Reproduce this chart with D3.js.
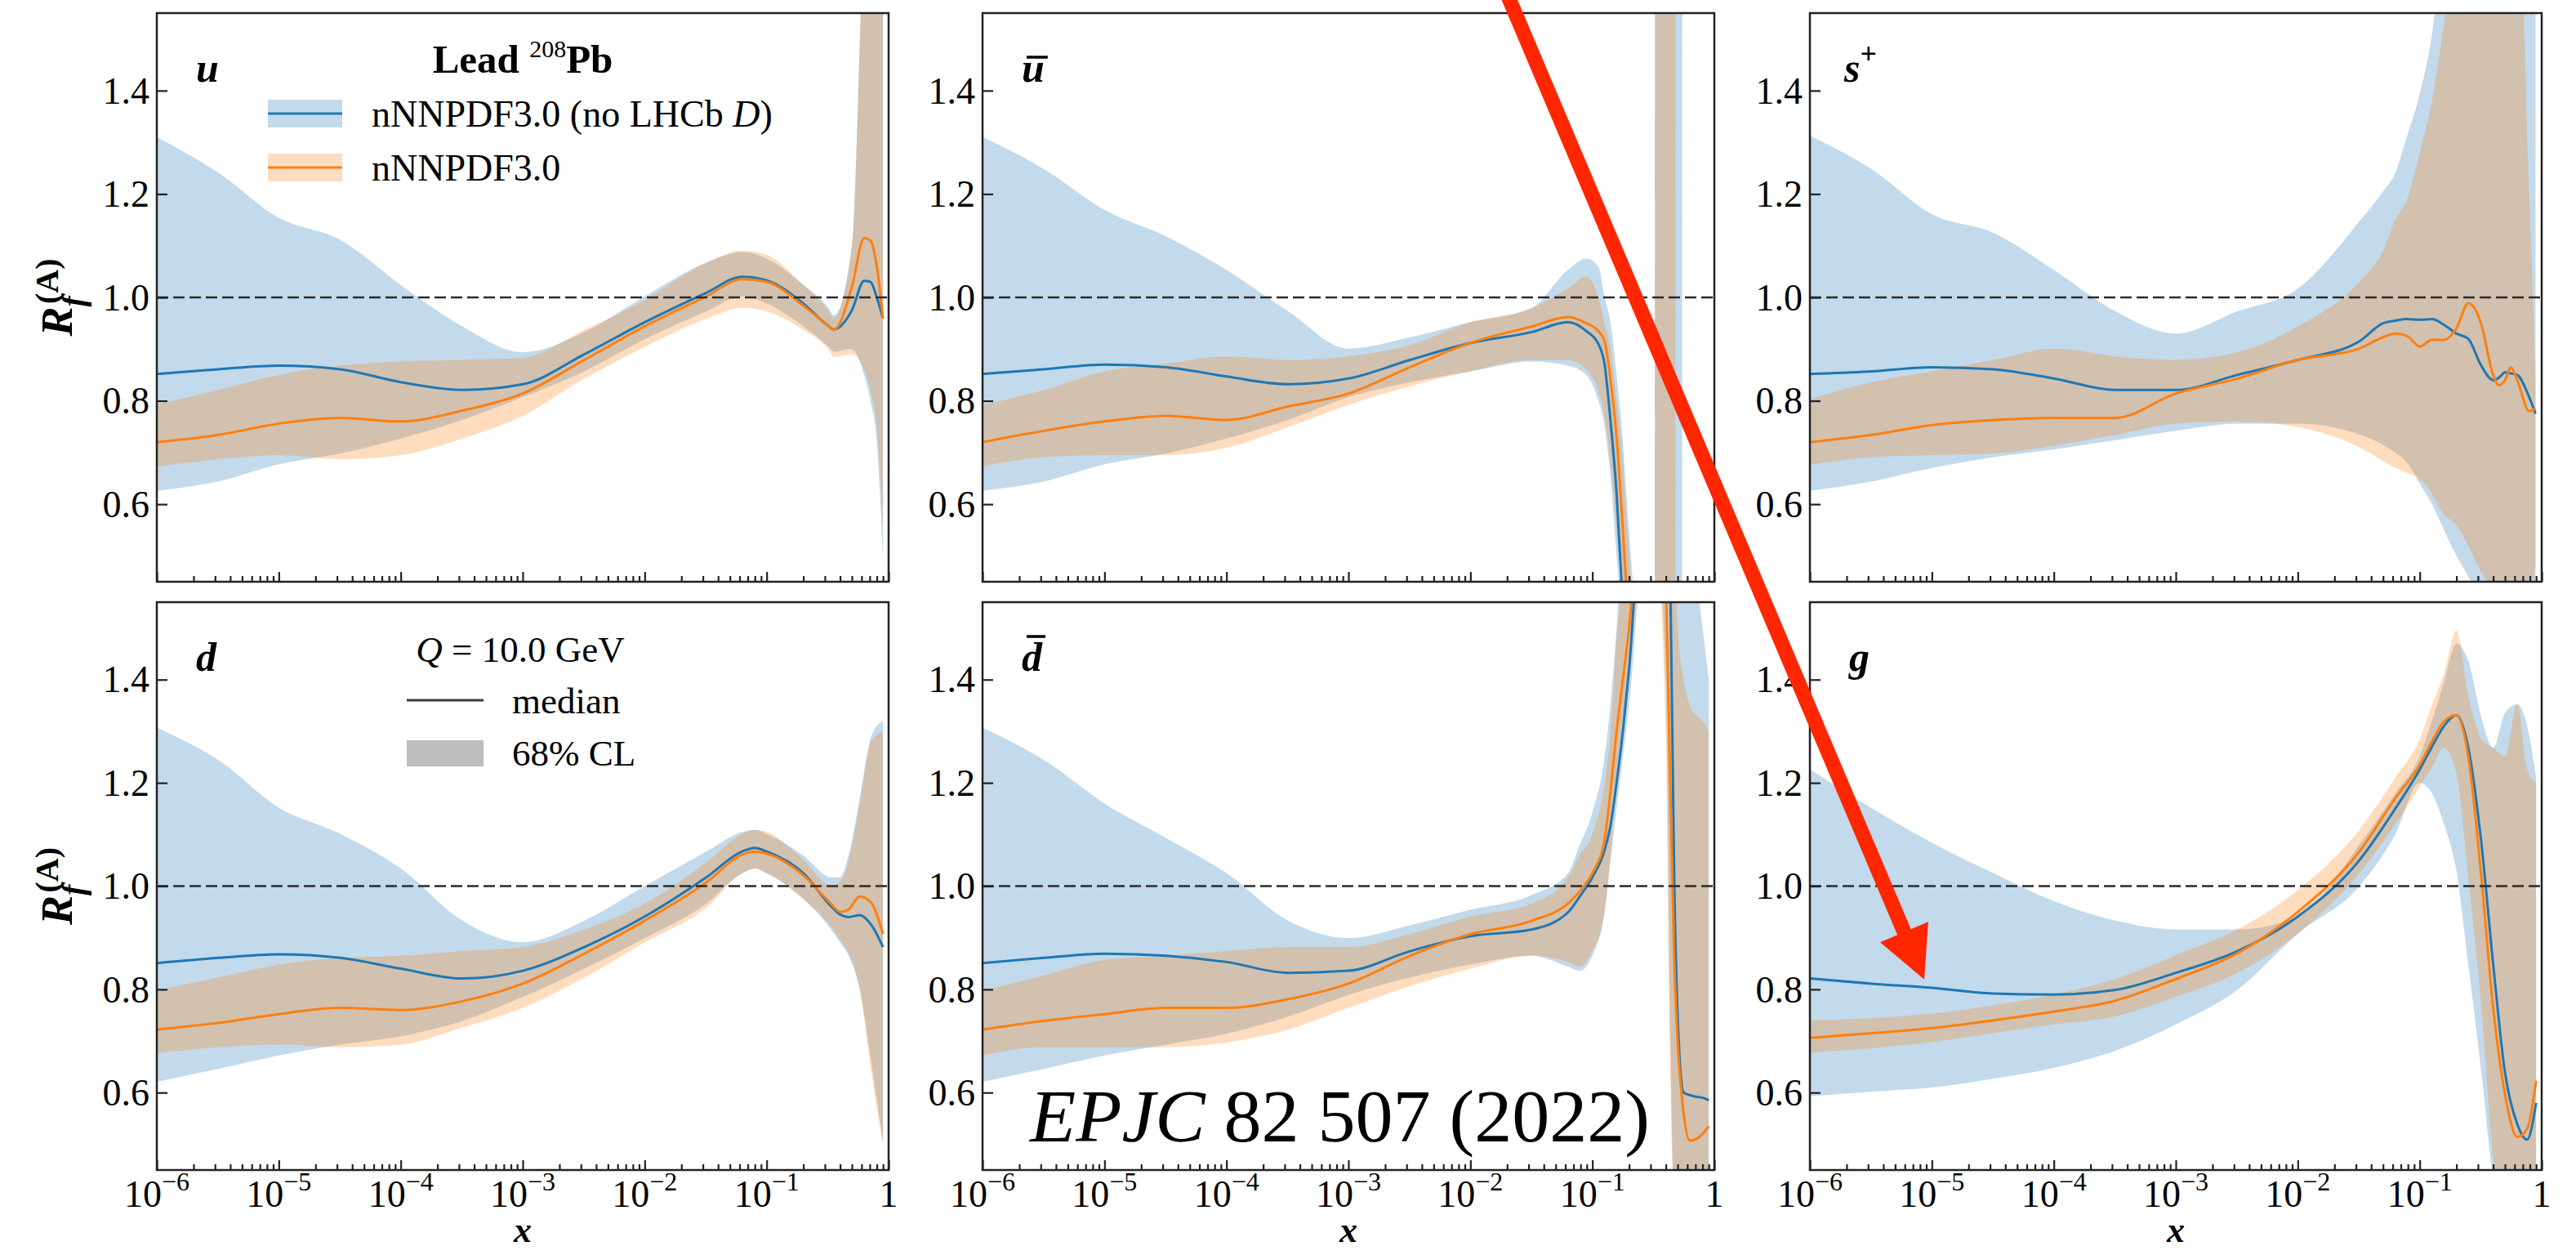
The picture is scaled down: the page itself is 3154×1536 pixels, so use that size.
<!DOCTYPE html>
<html>
<head>
<meta charset="utf-8">
<script src="https://cdn.jsdelivr.net/npm/d3@7/dist/d3.min.js"></script>
<style>
html,body{margin:0;padding:0;background:#fff;}
svg{display:block;}
text{font-family:"Liberation Serif","Times New Roman",serif;fill:#000;}
</style>
</head>
<body>
<svg id="chart" width="3154" height="1536"></svg>
<script>
// ---------------- DATA ----------------
// u
const xU = [1e-6,3.2e-6,1e-5,3.2e-5,1e-4,3.2e-4,1e-3,3.2e-3,0.01,0.032,0.063,0.1,0.2,0.32,0.355,0.5,0.63,0.71,0.8,0.9];
const uBmed = [0.852,0.861,0.868,0.861,0.836,0.821,0.832,0.89,0.952,1.009,1.04,1.033,0.988,0.945,0.938,0.975,1.032,1.03,1.0,0.959];
const uBlo  = [0.626,0.644,0.677,0.698,0.727,0.763,0.807,0.857,0.919,0.973,1.002,0.988,0.944,0.905,0.895,0.9,0.85,0.8,0.72,0.496];
const uBhi  = [1.31,1.241,1.154,1.111,1.024,0.944,0.894,0.933,1.002,1.067,1.088,1.075,1.024,0.98,0.965,1.1,1.7,1.8,1.8,1.8];
const uOmed = [0.72,0.734,0.756,0.767,0.76,0.781,0.814,0.879,0.944,1.002,1.035,1.03,0.984,0.945,0.937,1.02,1.115,1.11,1.06,0.959];
const uOlo  = [0.673,0.687,0.695,0.687,0.695,0.727,0.771,0.843,0.904,0.959,0.98,0.973,0.937,0.9,0.885,0.89,0.86,0.82,0.75,0.56];
const uOhi  = [0.792,0.821,0.85,0.868,0.876,0.879,0.883,0.937,0.995,1.067,1.09,1.082,1.024,0.975,0.96,1.1,1.7,1.8,1.8,1.8];
// u-bar
const xUb = [1e-6,3.2e-6,1e-5,3.2e-5,1e-4,3.2e-4,1e-3,3.2e-3,0.01,0.032,0.063,0.089,0.112,0.126,0.141,0.158,0.178,0.19,0.3,0.325,0.328,0.477,0.48,0.543,0.546,0.9];
const ubBmed = [0.852,0.861,0.87,0.865,0.847,0.832,0.843,0.879,0.912,0.933,0.952,0.935,0.91,0.87,0.76,0.62,0.4,0.3,null,null,null,null,null,null,null,null];
const ubBlo  = [0.626,0.644,0.677,0.698,0.727,0.763,0.807,0.836,0.857,0.876,0.868,0.85,0.8,0.75,0.65,0.5,0.35,0.3,-1,-1,-9,-9,-9,-9,2,2];
const ubBhi  = [1.31,1.248,1.169,1.118,1.053,0.973,0.901,0.923,0.952,0.98,1.053,1.075,1.06,1.0,0.95,0.85,0.72,0.62,0.2,0.2,9,9,9,9,9,9];
const ubOmed = [0.72,0.742,0.76,0.771,0.763,0.789,0.814,0.865,0.912,0.944,0.962,0.95,0.935,0.915,0.84,0.73,0.55,0.44,null,null,null,null,null,null,null,null];
const ubOlo  = [0.673,0.691,0.695,0.695,0.709,0.749,0.792,0.828,0.857,0.879,0.879,0.86,0.82,0.77,0.68,0.55,0.42,0.35,-1,-1,-9,-9,2,2,2,2];
const ubOhi  = [0.792,0.821,0.857,0.872,0.886,0.879,0.886,0.908,0.952,0.98,1.017,1.04,1.0,0.95,0.9,0.8,0.68,0.58,0.1,0.1,9,9,9,9,9,9];
// s+
const xS = [1e-6,3.2e-6,1e-5,3.2e-5,1e-4,3.2e-4,1e-3,3.2e-3,0.01,0.032,0.05,0.063,0.079,0.1,0.126,0.158,0.2,0.25,0.316,0.4,0.447,0.5,0.56,0.63,0.79,0.89];
const sBmed = [0.852,0.857,0.865,0.861,0.843,0.821,0.821,0.85,0.879,0.915,0.95,0.955,0.958,0.957,0.958,0.947,0.93,0.92,0.87,0.84,0.845,0.855,0.853,0.85,0.807,0.775];
const sBlo  = [0.626,0.644,0.67,0.691,0.706,0.724,0.742,0.756,0.756,0.735,0.715,0.7,0.68,0.64,0.6,0.55,0.5,0.46,0.4,0.3,0.25,0.2,0.2,0.2,0.2,0.2];
const sBhi  = [1.313,1.248,1.161,1.125,1.053,0.973,0.93,0.973,1.017,1.147,1.205,1.241,1.313,1.393,1.509,1.7,1.8,1.8,1.8,1.8,1.8,1.8,1.8,1.8,1.8,1.8];
const sOmed = [0.72,0.734,0.753,0.763,0.767,0.767,0.814,0.843,0.879,0.901,0.923,0.93,0.925,0.905,0.918,0.918,0.94,0.989,0.952,0.85,0.83,0.84,0.865,0.84,0.78,0.785];
const sOlo  = [0.676,0.691,0.695,0.698,0.713,0.734,0.756,0.76,0.749,0.71,0.684,0.67,0.66,0.65,0.62,0.58,0.56,0.52,0.47,0.43,0.4,0.38,0.36,0.35,0.4,0.48];
const sOhi  = [0.803,0.836,0.857,0.879,0.901,0.886,0.879,0.894,0.944,1.03,1.09,1.15,1.19,1.28,1.38,1.53,1.7,1.8,1.8,1.8,1.8,1.8,1.8,1.8,1.2,0.85];
// d
const xD = [1e-6,3.2e-6,1e-5,3.2e-5,1e-4,3.2e-4,1e-3,3.2e-3,0.01,0.032,0.063,0.08,0.1,0.2,0.34,0.4,0.47,0.58,0.72,0.9];
const dBmed = [0.851,0.861,0.868,0.861,0.84,0.821,0.836,0.882,0.941,1.017,1.067,1.074,1.067,1.025,0.96,0.945,0.94,0.944,0.925,0.882];
const dBlo  = [0.621,0.646,0.672,0.693,0.709,0.739,0.785,0.84,0.899,0.966,1.025,1.034,1.025,0.975,0.915,0.891,0.865,0.8,0.66,0.503];
const dBhi  = [1.307,1.244,1.152,1.101,1.034,0.933,0.891,0.933,1.0,1.067,1.105,1.109,1.101,1.059,1.017,1.017,1.06,1.17,1.29,1.32];
const dOmed = [0.722,0.735,0.752,0.764,0.76,0.777,0.811,0.869,0.933,1.007,1.061,1.067,1.063,1.021,0.965,0.95,0.955,0.98,0.968,0.907];
const dOlo  = [0.676,0.688,0.693,0.688,0.693,0.726,0.764,0.823,0.891,0.958,1.025,1.034,1.025,0.975,0.92,0.895,0.87,0.8,0.64,0.5];
const dOhi  = [0.798,0.823,0.848,0.861,0.865,0.874,0.882,0.916,0.966,1.046,1.101,1.109,1.105,1.051,1.0,1.008,1.05,1.16,1.28,1.3];
// d-bar
const xDb = [1e-6,3.2e-6,1e-5,3.2e-5,1e-4,3.2e-4,1e-3,3.2e-3,0.01,0.032,0.063,0.079,0.1,0.126,0.141,0.158,0.178,0.2,0.3,0.4,0.43,0.47,0.5,0.56,0.63,0.71,0.8,0.9];
const dbBmed = [0.851,0.861,0.869,0.865,0.853,0.832,0.836,0.874,0.903,0.916,0.949,0.98,1.017,1.07,1.118,1.2,1.3,1.42,2.0,2.0,1.7,1.0,0.75,0.6,0.595,0.592,0.59,0.585];
const dbBlo  = [0.621,0.646,0.672,0.693,0.714,0.747,0.789,0.823,0.848,0.865,0.844,0.836,0.865,0.95,1.05,1.15,1.25,1.35,1.8,1.4,0.8,0.4,0.4,0.4,0.4,0.4,0.4,0.4];
const dbBhi  = [1.307,1.244,1.16,1.093,1.025,0.933,0.899,0.924,0.954,0.983,1.025,1.08,1.143,1.25,1.354,1.5,1.7,1.9,2.2,2.2,2.2,2.0,1.9,1.8,1.7,1.6,1.5,1.4];
const dbOmed = [0.722,0.739,0.752,0.764,0.764,0.781,0.811,0.865,0.907,0.933,0.966,0.99,1.025,1.09,1.185,1.3,1.4,1.5,2.0,1.6,1.25,0.85,0.7,0.56,0.507,0.51,0.52,0.535];
const dbOlo  = [0.672,0.688,0.688,0.688,0.697,0.722,0.764,0.806,0.84,0.865,0.853,0.844,0.874,0.95,1.06,1.2,1.3,1.4,1.8,1.3,0.7,0.4,0.4,0.4,0.4,0.4,0.4,0.4];
const dbOhi  = [0.798,0.827,0.857,0.865,0.874,0.882,0.882,0.907,0.941,0.966,1.017,1.06,1.101,1.2,1.3,1.48,1.6,1.7,2.2,2.2,2.0,1.7,1.5,1.4,1.35,1.33,1.32,1.3];
// g
const xG = [1e-6,3.2e-6,1e-5,3.2e-5,1e-4,3.2e-4,1e-3,3.2e-3,0.01,0.032,0.063,0.1,0.126,0.158,0.2,0.25,0.32,0.4,0.5,0.63,0.76,0.9];
const gBmed = [0.821,0.811,0.803,0.792,0.79,0.799,0.832,0.874,0.941,1.05,1.15,1.226,1.27,1.31,1.331,1.268,1.084,0.849,0.639,0.539,0.509,0.58];
const gBlo  = [0.593,0.602,0.61,0.627,0.648,0.681,0.732,0.799,0.908,1.0,1.1,1.2,1.18,1.12,1.03,0.849,0.639,0.43,0.3,0.3,0.3,0.3];
const gBhi  = [1.226,1.151,1.084,1.025,0.971,0.933,0.916,0.916,0.941,1.08,1.18,1.252,1.32,1.394,1.47,1.436,1.327,1.268,1.335,1.352,1.31,1.21];
const gOmed = [0.706,0.715,0.725,0.74,0.757,0.778,0.82,0.87,0.95,1.067,1.17,1.235,1.28,1.319,1.331,1.251,1.017,0.765,0.597,0.514,0.53,0.623];
const gOlo  = [0.677,0.686,0.698,0.715,0.732,0.748,0.786,0.832,0.908,1.025,1.12,1.193,1.23,1.268,1.218,1.017,0.765,0.472,0.346,0.3,0.3,0.3];
const gOhi  = [0.74,0.744,0.753,0.769,0.79,0.82,0.866,0.916,0.992,1.109,1.21,1.285,1.35,1.411,1.495,1.369,1.285,1.268,1.252,1.352,1.226,1.2];

const seriesNames = ["nNNPDF3.0 (no LHCb ", "nNNPDF3.0"];
const yTicks = [0.6, 0.8, 1.0, 1.2, 1.4];
const xMajorExp = [-6, -5, -4, -3, -2, -1, 0];
const arrowTip = {x: 8.66e-6, y: 0.819};

// ---------------- LAYOUT ----------------
const W = 3154, H = 1536;
const colLeft = [192, 1203, 2216], panelW = 896;
const rowTop = [16, 737], panelH = [696, 695];
const yDomain = [0.45, 1.55];
const BLUE = "#1f77b4", ORANGE = "#ff7f0e", ALPHA = 0.27;
const FRAME = "#222";

const panels = [
  {lab:"u",   row:0, col:0, x:xU,  b:[uBmed,uBlo,uBhi],    o:[uOmed,uOlo,uOhi]},
  {lab:"ub",  row:0, col:1, x:xUb, b:[ubBmed,ubBlo,ubBhi], o:[ubOmed,ubOlo,ubOhi]},
  {lab:"s",   row:0, col:2, x:xS,  b:[sBmed,sBlo,sBhi],    o:[sOmed,sOlo,sOhi]},
  {lab:"d",   row:1, col:0, x:xD,  b:[dBmed,dBlo,dBhi],    o:[dOmed,dOlo,dOhi]},
  {lab:"db",  row:1, col:1, x:xDb, b:[dbBmed,dbBlo,dbBhi], o:[dbOmed,dbOlo,dbOhi]},
  {lab:"g",   row:1, col:2, x:xG,  b:[gBmed,gBlo,gBhi],    o:[gOmed,gOlo,gOhi]}
];

const svg = d3.select("#chart");
svg.append("rect").attr("width", W).attr("height", H).attr("fill", "#fff");
const defs = svg.append("defs");

const minorTicks = [];
for (let e = -6; e < 0; e++) for (let k = 2; k <= 9; k++) minorTicks.push(k * Math.pow(10, e));

const scales = [];

panels.forEach((p, i) => {
  const left = colLeft[p.col], top = rowTop[p.row], h = panelH[p.row];
  const x = d3.scaleLog().domain([1e-6, 1]).range([left, left + panelW]);
  const y = d3.scaleLinear().domain(yDomain).range([top + h, top]);
  scales.push({x, y});
  const g = svg.append("g");
  defs.append("clipPath").attr("id", "clip" + i)
    .append("rect").attr("x", left).attr("y", top).attr("width", panelW).attr("height", h);
  const plot = g.append("g").attr("clip-path", `url(#clip${i})`);

  const rows = (xs, s) => xs.map((xv, k) => ({x: xv, m: s[0][k], l: s[1][k], h: s[2][k]}));
  const area = d3.area().x(d => x(d.x)).y0(d => y(d.l)).y1(d => y(d.h)).curve(d3.curveMonotoneX);
  const line = d3.line().defined(d => d.m != null).x(d => x(d.x)).y(d => y(d.m)).curve(d3.curveMonotoneX);
  const bd = rows(p.x, p.b), od = rows(p.x, p.o);

  plot.append("path").datum(bd).attr("d", area).attr("fill", BLUE).attr("fill-opacity", ALPHA);
  plot.append("path").datum(od).attr("d", area).attr("fill", ORANGE).attr("fill-opacity", ALPHA);
  plot.append("path").datum(bd).attr("d", line).attr("fill", "none").attr("stroke", BLUE).attr("stroke-width", 3);
  plot.append("path").datum(od).attr("d", line).attr("fill", "none").attr("stroke", ORANGE).attr("stroke-width", 3);

  plot.append("line").attr("x1", left).attr("x2", left + panelW).attr("y1", y(1)).attr("y2", y(1))
    .attr("stroke", "#2b2b2b").attr("stroke-width", 2.5).attr("stroke-dasharray", "14,6");

  // y axis
  const ya = d3.axisLeft(y).tickValues(yTicks).tickSizeInner(-13).tickSizeOuter(0).tickPadding(9)
    .tickFormat(d3.format(".1f"));
  g.append("g").attr("transform", `translate(${left},0)`).call(ya).call(s => {
    s.select(".domain").remove();
    s.attr("font-family", null).attr("font-size", null);
    s.selectAll("line").attr("stroke", FRAME).attr("stroke-width", 2.2);
    s.selectAll("text").attr("font-size", 46).attr("fill", "#000").attr("dy", "0.33em");
  });
  // x axis major & minor ticks
  const xaMaj = d3.axisBottom(x).tickValues(xMajorExp.map(e => Math.pow(10, e))).tickSizeInner(-12).tickSizeOuter(0).tickFormat(() => "");
  const xaMin = d3.axisBottom(x).tickValues(minorTicks).tickSizeInner(-7).tickSizeOuter(0).tickFormat(() => "");
  [xaMaj, xaMin].forEach(ax => {
    g.append("g").attr("transform", `translate(0,${top + h})`).call(ax).call(s => {
      s.select(".domain").remove();
      s.selectAll("line").attr("stroke", FRAME).attr("stroke-width", 2.2);
    });
  });
  // x tick labels on bottom row
  if (p.row === 1) {
    xMajorExp.forEach(e => {
      const t = g.append("text").attr("x", x(Math.pow(10, e))).attr("y", top + h + 45)
        .attr("text-anchor", "middle").attr("font-size", 46);
      if (e === 0) t.text("1");
      else {
        t.append("tspan").text("10");
        t.append("tspan").attr("font-size", 32).attr("dy", -20).text("\u2212" + Math.abs(e));
      }
    });
    g.append("text").attr("x", left + panelW / 2).attr("y", top + h + 88)
      .attr("text-anchor", "middle").attr("font-size", 44).attr("font-weight", "bold")
      .attr("font-style", "italic").text("x");
  }
  // y label on left column
  if (p.col === 0) {
    const t = g.append("text").attr("transform", `translate(88,${top + h / 2}) rotate(-90)`)
      .attr("text-anchor", "middle").attr("font-weight", "bold").attr("font-style", "italic");
    t.append("tspan").attr("font-size", 54).text("R");
    t.append("tspan").attr("font-size", 40).attr("dy", 15).text("f");
    t.append("tspan").attr("font-size", 40).attr("dx", -10).attr("dy", -32).attr("font-style", "normal").text("(A)");
  }
  // panel label
  const lx = left + 48, ly = top + 84;
  const lt = g.append("text").attr("x", lx).attr("y", ly).attr("font-size", 50)
    .attr("font-weight", "bold").attr("font-style", "italic");
  if (p.lab === "u" || p.lab === "d" || p.lab === "g") lt.text(p.lab);
  else if (p.lab === "s") {
    lt.attr("x", lx - 6);
    lt.append("tspan").text("s");
    lt.append("tspan").attr("font-size", 36).attr("font-style", "normal").attr("dy", -22).text("+");
  } else {
    const ch = p.lab === "ub" ? "u" : "d";
    lt.text(ch);
    const len = lt.node().getComputedTextLength();
    const barY = ch === "u" ? ly - 30 : ly - 42;
    g.append("line").attr("x1", lx + 6).attr("x2", lx + len + 4).attr("y1", barY).attr("y2", barY)
      .attr("stroke", "#000").attr("stroke-width", 3.5);
  }
  // frame
  g.append("rect").attr("x", left).attr("y", top).attr("width", panelW).attr("height", h)
    .attr("fill", "none").attr("stroke", FRAME).attr("stroke-width", 2.5);

  // legends
  if (i === 0) {
    const t = g.append("text").attr("x", left + 448).attr("y", top + 73).attr("text-anchor", "middle")
      .attr("font-size", 49).attr("font-weight", "bold");
    t.append("tspan").text("Lead ");
    t.append("tspan").attr("font-size", 30).attr("font-weight", "normal").attr("dy", -19).text("208");
    t.append("tspan").attr("dy", 19).text("Pb");
    [[BLUE, 106], [ORANGE, 172]].forEach(([c, dy], k) => {
      g.append("rect").attr("x", left + 136).attr("y", top + dy).attr("width", 91).attr("height", 34)
        .attr("fill", c).attr("fill-opacity", ALPHA);
      g.append("line").attr("x1", left + 136).attr("x2", left + 227).attr("y1", top + dy + 17).attr("y2", top + dy + 17)
        .attr("stroke", c).attr("stroke-width", 3);
      const tx = g.append("text").attr("x", left + 263).attr("y", top + dy + 33).attr("font-size", 46);
      tx.append("tspan").text(seriesNames[k]);
      if (k === 0) {
        tx.append("tspan").attr("font-style", "italic").text("D");
        tx.append("tspan").text(")");
      }
    });
  }
  if (i === 3) {
    const t = g.append("text").attr("x", left + 445).attr("y", top + 73).attr("text-anchor", "middle").attr("font-size", 45);
    t.append("tspan").attr("font-style", "italic").text("Q");
    t.append("tspan").text(" = 10.0 GeV");
    g.append("line").attr("x1", left + 306).attr("x2", left + 400).attr("y1", top + 120).attr("y2", top + 120)
      .attr("stroke", "#3a3a3a").attr("stroke-width", 3);
    g.append("text").attr("x", left + 435).attr("y", top + 136).attr("font-size", 45).text("median");
    g.append("rect").attr("x", left + 306).attr("y", top + 169).attr("width", 94).attr("height", 32).attr("fill", "#bdbdbd");
    g.append("text").attr("x", left + 435).attr("y", top + 200).attr("font-size", 45).text("68% CL");
  }
});

// publication tag
const tag = svg.append("text").attr("x", 1261).attr("y", 1397).attr("font-size", 92);
tag.append("tspan").attr("font-style", "italic").text("EPJC");
tag.append("tspan").text(" 82 507 (2022)");

// red arrow annotation (tip in g-panel data coordinates)
const sg = scales[5];
const tip = [sg.x(arrowTip.x), sg.y(arrowTip.y)];
const dir = [0.39, 0.921];
const perp = [dir[1], -dir[0]];
const headLen = 63, headHalf = 32, tailLen = 1330;
const base = [tip[0] - headLen * dir[0], tip[1] - headLen * dir[1]];
const tail = [tip[0] - tailLen * dir[0], tip[1] - tailLen * dir[1]];
const RED = "#ff2600";
svg.append("line").attr("x1", tail[0]).attr("y1", tail[1]).attr("x2", base[0] + 4 * dir[0]).attr("y2", base[1] + 4 * dir[1])
  .attr("stroke", RED).attr("stroke-width", 18);
svg.append("path").attr("d", d3.line()([tip,
  [base[0] + headHalf * perp[0], base[1] + headHalf * perp[1]],
  [base[0] - headHalf * perp[0], base[1] - headHalf * perp[1]]]) + "Z").attr("fill", RED);
</script>
</body>
</html>
